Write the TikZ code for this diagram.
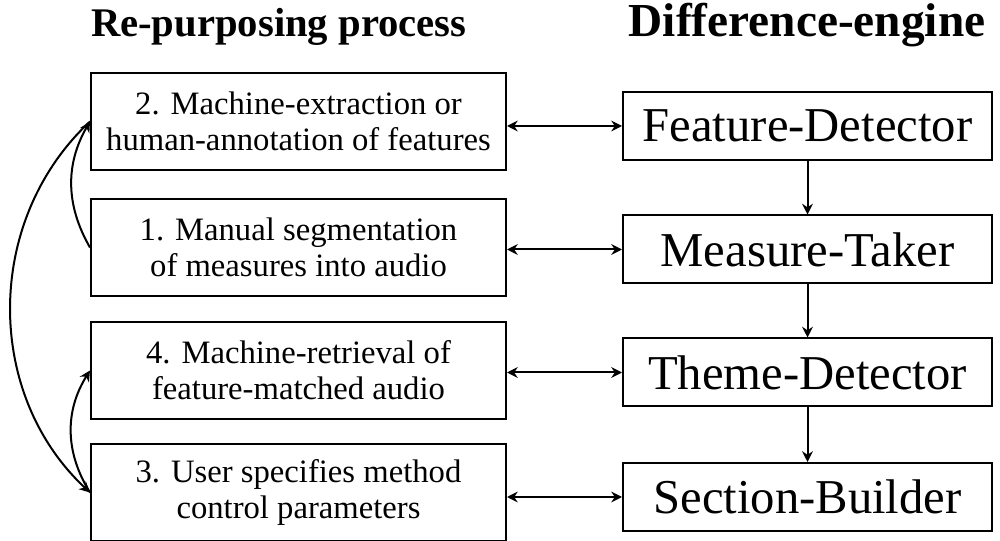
\documentclass[tikz,border=0pt]{standalone}
\usepackage{fontspec}
\setmainfont{Liberation Serif}
\usetikzlibrary{arrows.meta}

\tikzset{every picture/.style={line width=1.5pt}}
\tikzset{
	stepbox/.style={draw, inner sep=0pt, align=center, minimum width=311.25pt, minimum height=72.75pt, font=\fontsize{24.5pt}{27pt}\selectfont},
	enginebox/.style={draw, inner sep=0pt, minimum width=276.75pt, minimum height=51pt, font=\fontsize{36.5pt}{40pt}\selectfont},
	heading/.style={inner sep=0pt, font=\bfseries},
	tip/.style={-{Stealth[length=8pt,width=8pt]}},
	twoway/.style={{Stealth[length=8pt,width=8pt]}-{Stealth[length=8pt,width=8pt]}}
}

\begin{document}
\begin{tikzpicture}[x=0.75pt,y=0.75pt,yscale=-1,xscale=1]
	\useasboundingbox (0,0) rectangle (1000,541);

	% Headings
	\node [heading, anchor=base west, font=\fontsize{30.5pt}{34pt}\selectfont\bfseries] (hproc) at (90,37) {Re-purposing process};
	\node [heading, anchor=base, font=\fontsize{35.5pt}{40pt}\selectfont\bfseries] (heng) at (807,37) {Difference-engine};

	% Re-purposing steps
	\node [stepbox] (extract) at (298.5,121.5) {2. Machine-extraction or\\human-annotation of features};
	\node [stepbox] (segment) at (298.5,247.5) {1. Manual segmentation\\of measures into audio};
	\node [stepbox] (retrieve) at (298.5,370.5) {4. Machine-retrieval of\\feature-matched audio};
	\node [stepbox] (specify) at (298.5,492.5) {3. User specifies method\\control parameters};

	% Difference-engine modules
	\node [enginebox] (fdetect) at (807.5,126) {Feature-Detector};
	\node [enginebox] (mtaker) at (807.5,249.5) {Measure-Taker};
	\node [enginebox] (tdetect) at (807.5,372.5) {Theme-Detector};
	\node [enginebox] (sbuild) at (807.5,497) {Section-Builder};

	% Two-way links
	\draw [twoway] (fdetect.west -| extract.east) -- (fdetect.west);
	\draw [twoway] (mtaker.west -| segment.east) -- (mtaker.west);
	\draw [twoway] (tdetect.west -| retrieve.east) -- (tdetect.west);
	\draw [twoway] (sbuild.west -| specify.east) -- (sbuild.west);

	% Engine chain
	\draw [tip] (fdetect) -- (mtaker);
	\draw [tip] (mtaker) -- (tdetect);
	\draw [tip] (tdetect) -- (sbuild);

	% Order of the steps
	\draw [tip] (segment.west) to [bend right=30] (extract.west);
	\draw [tip] (extract.west) to [bend left=47] (specify.west);
	\draw [tip] (specify.west) to [bend right=32] (retrieve.west);

\end{tikzpicture}
\end{document}
